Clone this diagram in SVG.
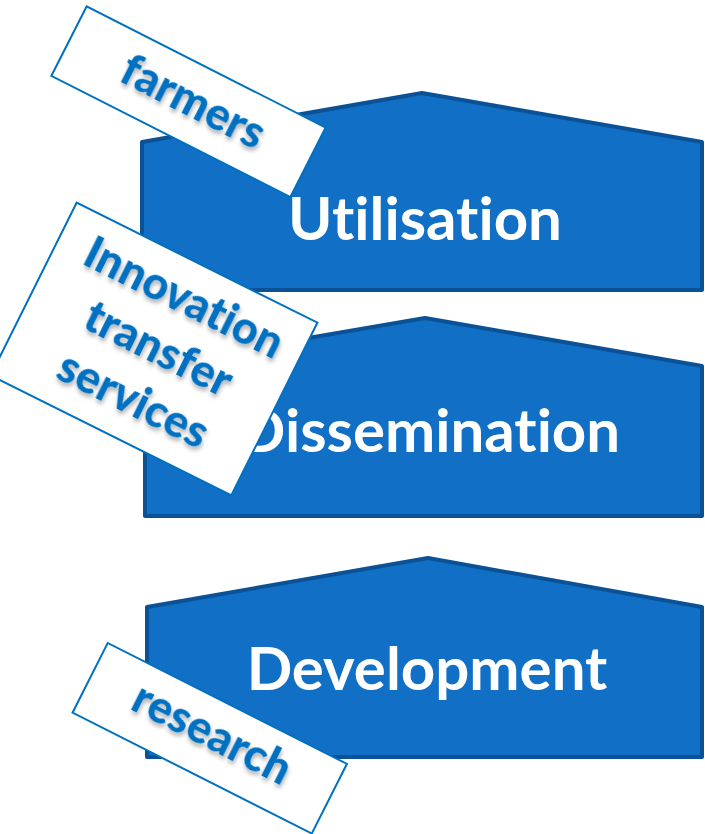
<svg xmlns="http://www.w3.org/2000/svg" width="705" height="834" viewBox="0 0 705 834">
<style>
text{font-variant-ligatures:none;font-feature-settings:"liga" 0,"clig" 0}
.stage{fill:#1170C6;stroke:#0A5196;stroke-width:4;stroke-linejoin:round}
.stxt{font-family:Lato,"Open Sans",sans-serif;font-weight:bold;font-size:60px;fill:#fff;text-anchor:middle}
.box{fill:#fff;stroke:#0070C0;stroke-width:2}
.ltxt{font-family:Lato,"Open Sans",sans-serif;font-weight:900;font-size:45px;fill:#0070C0;text-anchor:middle;filter:url(#sh)}
</style>
<defs>
<filter id="sh" x="-20%" y="-40%" width="140%" height="180%">
<feDropShadow dx="2" dy="3" stdDeviation="2" flood-color="#000" flood-opacity="0.3"/>
</filter>
</defs>
<g id="utilisation">
<polygon class="stage" points="142,142 422,93 702,142 702,290 142,290"/>
<text class="stxt" x="425" y="240">Utilisation</text>
</g>
<g id="farmers">
<g transform="translate(188.5,101.75) rotate(26.9)">
<rect class="box" x="-134" y="-39" width="268" height="78"/>
<text class="ltxt" x="4" y="13">farmers</text>
</g>
</g>
<g id="dissemination">
<polygon class="stage" points="145,366 425,318 702,366 702,516 145,516"/>
<text class="stxt" x="430" y="452">Dissemination</text>
</g>
<g id="innovation">
<g transform="translate(154,349) rotate(26.5)">
<rect class="box" x="-134.5" y="-96.5" width="269" height="193"/>
<text class="ltxt" x="4" y="-44">Innovation</text>
<text class="ltxt" x="4" y="13">transfer</text>
<text class="ltxt" x="4" y="70">services</text>
</g>
</g>
<g id="development">
<polygon class="stage" points="147,607 428,558 702,607 702,757 147,757"/>
<text class="stxt" x="427" y="690">Development</text>
</g>
<g id="research">
<g transform="translate(209.75,738.25) rotate(26.8)">
<rect class="box" x="-134" y="-39" width="268" height="78"/>
<text class="ltxt" x="0" y="10">research</text>
</g>
</g>
<g id="connectors"></g>
</svg>
